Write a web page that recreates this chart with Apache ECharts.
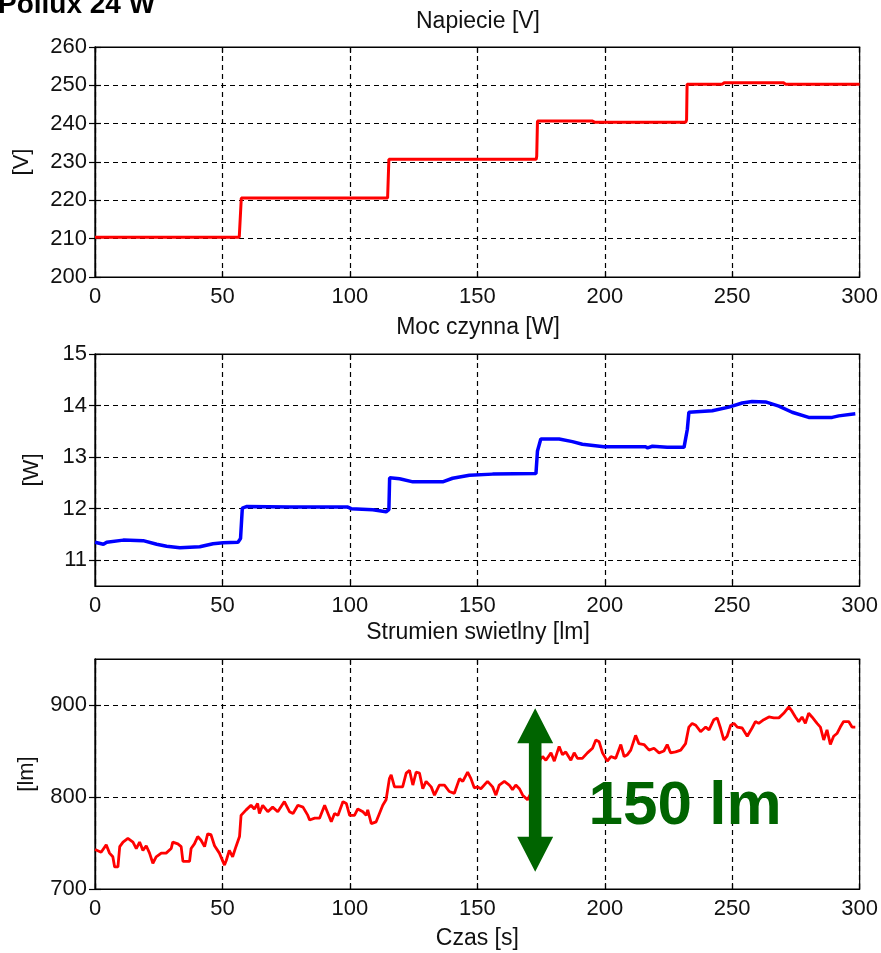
<!DOCTYPE html>
<html>
<head>
<meta charset="utf-8">
<script src="https://cdn.jsdelivr.net/npm/echarts@6/dist/echarts.min.js"></script>
<style>
html,body{margin:0;padding:0;background:#fff;}
#chart{width:881px;height:953px;}
</style>
</head>
<body>
<div id="chart"></div>
<script>
// ---------- data ----------
const mainTitle = 'Pollux 24 W';
const panelTitles = ['Napiecie [V]', 'Moc czynna [W]', 'Strumien swietlny [lm]'];
const yNames = ['[V]', '[W]', '[lm]'];
const xName = 'Czas [s]';
const xTicks = [0, 50, 100, 150, 200, 250, 300];
const yTicksV = [200, 210, 220, 230, 240, 250, 260];
const yTicksW = [11, 12, 13, 14, 15];
const yTicksLm = [700, 800, 900];

// Voltage [t, V]
const voltage = [[0,210.4],[56.6,210.4],[57.2,210.6],[57.4,220.6],[100,220.6],[114.8,220.6],[115.1,221],[115.3,230.7],[150,230.7],[173.1,230.7],[173.3,231.5],[173.6,240.7],[195,240.7],[196,240.4],[231.8,240.4],[232.1,241],[232.3,250.3],[246,250.3],[247,250.7],[270,250.7],[271,250.3],[300,250.3]];

// Active power [t, W]
const power = [[0,11.35],[3.3,11.31],[4.6,11.35],[11.1,11.39],[18.9,11.38],[24.2,11.31],[28.1,11.27],[33.3,11.24],[41.1,11.26],[46.3,11.32],[50.3,11.34],[56.1,11.35],[57.1,11.42],[57.8,12.01],[59.4,12.04],[76.4,12.03],[99.2,12.03],[100.5,12.0],[109,11.98],[114.2,11.94],[115.3,11.98],[115.6,12.6],[119.5,12.58],[124.7,12.52],[136.4,12.52],[140.3,12.59],[146.9,12.65],[156,12.67],[173,12.68],[173.6,13.12],[174.9,13.35],[182.1,13.35],[187.3,13.3],[191.2,13.25],[199.7,13.2],[216,13.2],[216.8,13.18],[218.7,13.21],[224.5,13.19],[231.1,13.19],[232.4,13.54],[233,13.87],[242.2,13.9],[248.7,13.97],[253.9,14.05],[257.8,14.08],[263.1,14.07],[268.3,13.99],[273.5,13.87],[280,13.77],[289.2,13.77],[291.8,13.8],[298.3,13.84]];

// Luminous flux [t, lm]
const lumen = [[0,743],[2.4,740],[4.4,748],[5.7,739],[7,735],[7.7,724],[9,724],[9.7,746],[11,751],[12.9,755],[14.9,751],[16.2,744],[17.5,751],[18.8,742],[20.1,747],[21.4,739],[22.7,728],[24,735],[26,739],[27.9,739],[29.9,744],[30.5,751],[32.5,749],[33.8,746],[34.5,730],[37.1,730],[37.7,744],[39,749],[40.3,757],[41.6,753],[43,746],[44.2,760],[45.5,759],[46.9,747],[48.8,739],[50.8,726],[51.5,731],[52.7,742],[54,735],[55.3,746],[56.7,757],[57.3,780],[57.9,782],[59.3,786],[61.2,791],[62.5,787],[63.8,793],[64.5,782],[65.8,791],[67.8,784],[69.7,789],[71.7,784],[74.3,795],[76.3,784],[77.7,782],[79.6,791],[81.6,789],[83.5,780],[84.2,775],[86.2,777],[88.1,777],[90.1,791],[91.4,782],[92.7,773],[94,782],[95.3,780],[97.3,795],[98.6,793],[99.9,780],[101.8,780],[103.1,787],[105.1,784],[106.4,780],[107,786],[108.4,771],[110.3,773],[111.6,782],[112.9,791],[114.2,797],[115.5,820],[116.2,824],[117.5,811],[119.4,811],[120.7,811],[122.1,826],[123.4,829],[124.7,813],[126,827],[127.3,826],[128.6,809],[129.9,817],[131.9,811],[133.2,802],[135.1,813],[137.1,813],[139,806],[141,804],[143,820],[144.3,817],[146.2,827],[147.5,820],[148.8,810],[150.1,811],[151.4,809],[154,817],[156,811],[157.3,802],[158.6,813],[160.6,817],[162.5,813],[163.8,808],[165.1,813],[166.5,809],[167.8,802],[169.7,797],[171,804],[172.5,801],[174,805],[174.5,840],[175.6,844],[176.9,840],[178.9,848],[180.2,839],[182.1,855],[183.4,846],[184.7,849],[186.7,840],[188,848],[189.3,842],[191.2,842],[193.2,848],[195.2,853],[196.5,862],[197.8,860],[199.1,848],[201,839],[202.4,844],[204.3,842],[206.3,857],[207.6,844],[208.9,846],[210.2,851],[212.1,867],[213.4,858],[215.4,857],[217.4,851],[219.3,853],[221.3,848],[223.2,850],[224.5,857],[225.8,848],[227.8,849],[229.8,851],[231.7,858],[233,876],[234.3,880],[235.7,878],[237.6,871],[239.6,876],[240.9,873],[242.8,884],[244.1,886],[245.4,875],[246.7,862],[248,866],[249.4,878],[250.7,880],[252,876],[253.9,875],[255.9,866],[257.8,875],[259.1,882],[260.4,880],[262.4,884],[264.4,887],[266.3,886],[268.3,886],[270.2,891],[272.2,898],[273.5,893],[274.8,887],[276.1,882],[277.4,887],[278.7,880],[280,891],[281.3,887],[283.3,880],[284.6,876],[285.9,862],[287.2,873],[288.5,857],[289.8,866],[291.1,869],[292.4,876],[293.7,882],[295.7,882],[297,876],[298.3,876]];

// annotation: double arrow [t, top lm, bottom lm] and label [t, lm, text]
const arrowSpan = [[172.7, 896.4, 718.7]];
const arrowLabel = [[231.5, 789, '150 lm']];

// axis ranges [min, max] and tick values
const yRanges = [[200, 260], [10.5, 15], [700, 950]];
const yTickSets = [yTicksV, yTicksW, yTicksLm];

// ---------- chart ----------
const FONT = 'Liberation Sans, Arial, sans-serif';
const grids = [
  {left: 95, top: 47, width: 766, height: 230},
  {left: 95, top: 354, width: 766, height: 232},
  {left: 95, top: 659, width: 766, height: 230}
];
const dash = {color: '#000', width: 1.2, type: [5, 4]};

const xAxes = [], yAxes = [];
grids.forEach((g, i) => {
  xAxes.push({
    type: 'value', gridIndex: i, min: xTicks[0], max: xTicks[xTicks.length - 1],
    axisLine: {show: true, lineStyle: {color: '#000', width: 1.2}},
    axisTick: {show: true, inside: true, length: 6, lineStyle: {color: '#000', width: 1.2}, customValues: xTicks},
    splitLine: {show: true, lineStyle: dash},
    axisLabel: {color: '#111', fontSize: 22, fontFamily: FONT, margin: 9, customValues: xTicks},
    name: i === 2 ? xName : '', nameLocation: 'middle', nameGap: 38,
    nameTextStyle: {color: '#111', fontSize: 23, fontFamily: FONT}
  });
  xAxes.push({
    type: 'value', gridIndex: i, position: 'top', min: xTicks[0], max: xTicks[xTicks.length - 1],
    axisLine: {show: true, lineStyle: {color: '#000', width: 1.2}},
    axisTick: {show: true, inside: true, length: 6, lineStyle: {color: '#000', width: 1.2}, customValues: xTicks},
    splitLine: {show: false}, axisLabel: {show: false}
  });
  const r = yRanges[i];
  const tv = yTickSets[i];
  yAxes.push({
    type: 'value', gridIndex: i, min: r[0], max: r[1],
    axisLine: {show: true, lineStyle: {color: '#000', width: 1.2}},
    axisTick: {show: true, inside: true, length: 6, lineStyle: {color: '#000', width: 1.2}, customValues: tv},
    splitLine: {show: true, lineStyle: dash},
    axisLabel: {color: '#111', fontSize: 22, fontFamily: FONT, margin: 8, customValues: tv},
    name: yNames[i], nameLocation: 'middle', nameRotate: 90,
    nameGap: [62, 52, 57][i],
    nameTextStyle: {color: '#111', fontSize: 22, fontFamily: FONT}
  });
  yAxes.push({
    type: 'value', gridIndex: i, position: 'right', min: r[0], max: r[1],
    axisLine: {show: true, lineStyle: {color: '#000', width: 1.2}},
    axisTick: {show: true, inside: true, length: 6, lineStyle: {color: '#000', width: 1.2}, customValues: tv},
    splitLine: {show: false}, axisLabel: {show: false}
  });
});

const graphics = [
  {type: 'text', left: -2, top: -9, style: {text: mainTitle, font: 'bold 28px ' + FONT, fill: '#000'}, z: 100}
];
const titleY = [22, 328, 633];
panelTitles.forEach((t, i) => {
  graphics.push({type: 'text', x: 478, y: titleY[i], style: {text: t, font: '23px ' + FONT, fill: '#111', align: 'center', verticalAlign: 'middle'}});
});

const option = {
  backgroundColor: '#fff',
  animation: false,
  grid: grids.map(g => Object.assign({show: true, borderColor: '#000', borderWidth: 1.2, backgroundColor: '#fff'}, g)),
  xAxis: xAxes,
  yAxis: yAxes,
  graphic: graphics,
  series: [
    {type: 'line', xAxisIndex: 0, yAxisIndex: 0, data: voltage, showSymbol: false,
     lineStyle: {color: '#ff0000', width: 3}},
    {type: 'line', xAxisIndex: 2, yAxisIndex: 2, data: power, showSymbol: false,
     lineStyle: {color: '#0000ff', width: 3.5}},
    {type: 'line', xAxisIndex: 4, yAxisIndex: 4, data: lumen, showSymbol: false,
     lineStyle: {color: '#ff0000', width: 2.8}},
    {type: 'custom', xAxisIndex: 4, yAxisIndex: 4, data: arrowSpan, clip: false, z: 10,
     renderItem: function (params, api) {
       const x = api.value(0);
       const pt = api.coord([x, api.value(1)]);
       const pb = api.coord([x, api.value(2)]);
       const hw = 18, hh = 35, sw = 6.3;
       const cx = pt[0];
       const pts = [
         [cx, pt[1]], [cx + hw, pt[1] + hh], [cx + sw, pt[1] + hh],
         [cx + sw, pb[1] - hh], [cx + hw, pb[1] - hh], [cx, pb[1]],
         [cx - hw, pb[1] - hh], [cx - sw, pb[1] - hh], [cx - sw, pt[1] + hh],
         [cx - hw, pt[1] + hh]
       ];
       return {type: 'polygon', shape: {points: pts}, style: {fill: '#006400'}};
     }},
    {type: 'custom', xAxisIndex: 4, yAxisIndex: 4, data: arrowLabel, clip: false, z: 10,
     renderItem: function (params, api) {
       const p = api.coord([api.value(0), api.value(1)]);
       return {type: 'text', x: p[0], y: p[1],
         style: {text: arrowLabel[params.dataIndex][2], font: 'bold 62px ' + FONT, fill: '#006400', align: 'center', verticalAlign: 'middle'}};
     }}
  ]
};

const chart = echarts.init(document.getElementById('chart'), null, {renderer: 'canvas'});
chart.setOption(option);
</script>
</body>
</html>
